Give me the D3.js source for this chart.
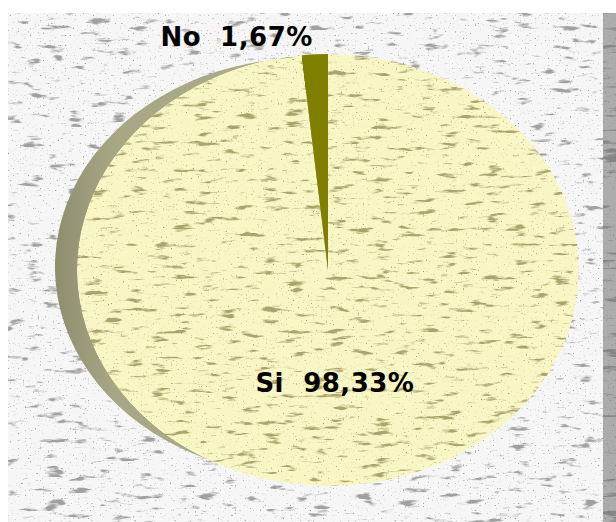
<!DOCTYPE html>
<html>
<head>
<meta charset="utf-8">
<script src="https://cdn.jsdelivr.net/npm/d3@7"></script>
<style>
    body { margin: 0; background: #ffffff; }
    svg { display: block; }
</style>
</head>
<body>
<svg class="svg" width="616" height="522"></svg>
<script>
// datos del grafico
let categories = ['Si', 'No'];
let values = [98.33, 1.67];
let labels = ['Si  98,33%', 'No  1,67%'];

let faceColors = ['#f8f6c4', '#808000'];
let sideColors = ['url(#sideGrad)', '#5f5f00'];

let cx = 328;
let cy = 270;
let rx = 251;
let ry = 216;
let depthX = -22;
let depthY = -3;
let sideRy = 209;

let svg = d3.select('.svg');
let defs = svg.append('defs');

function makeGrain(id, color, seed, freq, cut) {
    let f = defs.append('filter')
        .attr('id', id)
        .attr('x', 0).attr('y', 0)
        .attr('width', 1).attr('height', 1);
    f.append('feTurbulence')
        .attr('type', 'fractalNoise')
        .attr('baseFrequency', freq)
        .attr('numOctaves', 3)
        .attr('seed', seed)
        .attr('result', 'n');
    f.append('feColorMatrix')
        .attr('in', 'n')
        .attr('type', 'matrix')
        .attr('values', '0 0 0 0 0  0 0 0 0 0  0 0 0 0 0  7 0 0 0 ' + (-7 * cut))
        .attr('result', 'streak');
    f.append('feTurbulence')
        .attr('type', 'fractalNoise')
        .attr('baseFrequency', 0.6)
        .attr('numOctaves', 1)
        .attr('seed', seed + 7)
        .attr('result', 'd');
    f.append('feColorMatrix')
        .attr('in', 'd')
        .attr('type', 'matrix')
        .attr('values', '0 0 0 0 0  0 0 0 0 0  0 0 0 0 0  8 0 0 0 -5.3')
        .attr('result', 'dots');
    let m = f.append('feMerge').attr('result', 'mask');
    m.append('feMergeNode').attr('in', 'streak');
    m.append('feMergeNode').attr('in', 'dots');
    f.append('feFlood').attr('flood-color', color).attr('result', 'col');
    f.append('feComposite').attr('in', 'col').attr('in2', 'mask').attr('operator', 'in').attr('result', 'spots');
    let m2 = f.append('feMerge').attr('result', 'all');
    m2.append('feMergeNode').attr('in', 'SourceGraphic');
    m2.append('feMergeNode').attr('in', 'spots');
    f.append('feComposite').attr('in', 'all').attr('in2', 'SourceAlpha').attr('operator', 'in');
}

function drawBackground() {
    makeGrain('bgGrain', '#a0a0a0', 4, '0.045 0.16', 0.62);
    makeGrain('stripGrain', '#858585', 9, '0.03 0.2', 0.6);
    makeGrain('pieGrain', '#aaa46a', 2, '0.045 0.16', 0.61);

    let grad = defs.append('linearGradient')
        .attr('id', 'sideGrad')
        .attr('x1', 0).attr('y1', 0)
        .attr('x2', 1).attr('y2', 0);
    grad.append('stop').attr('offset', '0%').attr('stop-color', '#8e8d6e');
    grad.append('stop').attr('offset', '12%').attr('stop-color', '#a8a785');
    grad.append('stop').attr('offset', '100%').attr('stop-color', '#b4b391');

    svg.append('rect')
        .attr('x', 8)
        .attr('y', 13)
        .attr('width', 595)
        .attr('height', 509)
        .attr('fill', '#f6f6f6')
        .attr('filter', 'url(#bgGrain)');

    svg.append('rect')
        .attr('x', 603)
        .attr('y', 13)
        .attr('width', 13)
        .attr('height', 509)
        .attr('fill', '#acacac')
        .attr('filter', 'url(#stripGrain)');
}

function drawPie() {
    let pie = d3.pie().sort(null).value(function (d) { return d.v; });
    let data = categories.map(function (c, i) {
        return {name: c, v: values[i], label: labels[i], face: faceColors[i], side: sideColors[i]};
    });
    let arcs = pie(data);
    let arc = d3.arc().innerRadius(0).outerRadius(rx);

    // lado (profundidad) del pastel
    let sideG = svg.append('g')
        .attr('class', 'sideG')
        .attr('transform', 'translate(' + (cx + depthX) + ',' + (cy + depthY) + ') scale(1,' + (sideRy / rx) + ')');
    sideG.selectAll('path')
        .data(arcs)
        .enter()
        .append('path')
        .attr('d', arc)
        .attr('fill', function (d) { return d.data.side; });

    // cara superior
    let faceG = svg.append('g')
        .attr('class', 'faceG')
        .attr('transform', 'translate(' + cx + ',' + cy + ') scale(1,' + (ry / rx) + ')');
    faceG.selectAll('path')
        .data(arcs)
        .enter()
        .append('path')
        .attr('d', arc)
        .attr('fill', function (d) { return d.data.face; })
        .attr('filter', function (d) {
            return d.value > 50 ? 'url(#pieGrain)' : null;
        });

    // etiquetas
    let inArc = d3.arc().innerRadius(rx * 0.526).outerRadius(rx * 0.526);
    let k = ry / rx;
    svg.selectAll('.pieLabel')
        .data(arcs)
        .enter()
        .append('text')
        .attr('class', 'pieLabel')
        .attr('xml:space', 'preserve')
        .style('white-space', 'pre')
        .attr('x', function (d) {
            if (d.value > 50) {
                return cx + inArc.centroid(d)[0];
            }
            let a = (d.startAngle + d.endAngle) / 2;
            return cx + Math.sin(a) * rx - 2;
        })
        .attr('y', function (d) {
            if (d.value > 50) {
                return cy + inArc.centroid(d)[1] * k + 9;
            }
            let a = (d.startAngle + d.endAngle) / 2;
            return cy - Math.cos(a) * ry - 8;
        })
        .attr('text-anchor', function (d) {
            return d.value > 50 ? 'middle' : 'end';
        })
        .attr('font-family', '"DejaVu Sans", Verdana, sans-serif')
        .attr('font-weight', 'bold')
        .attr('font-size', '26px')
        .attr('letter-spacing', '0.5px')
        .attr('fill', '#000000')
        .text(function (d) { return d.data.label; });
}

drawBackground();
drawPie();
</script>
</body>
</html>
